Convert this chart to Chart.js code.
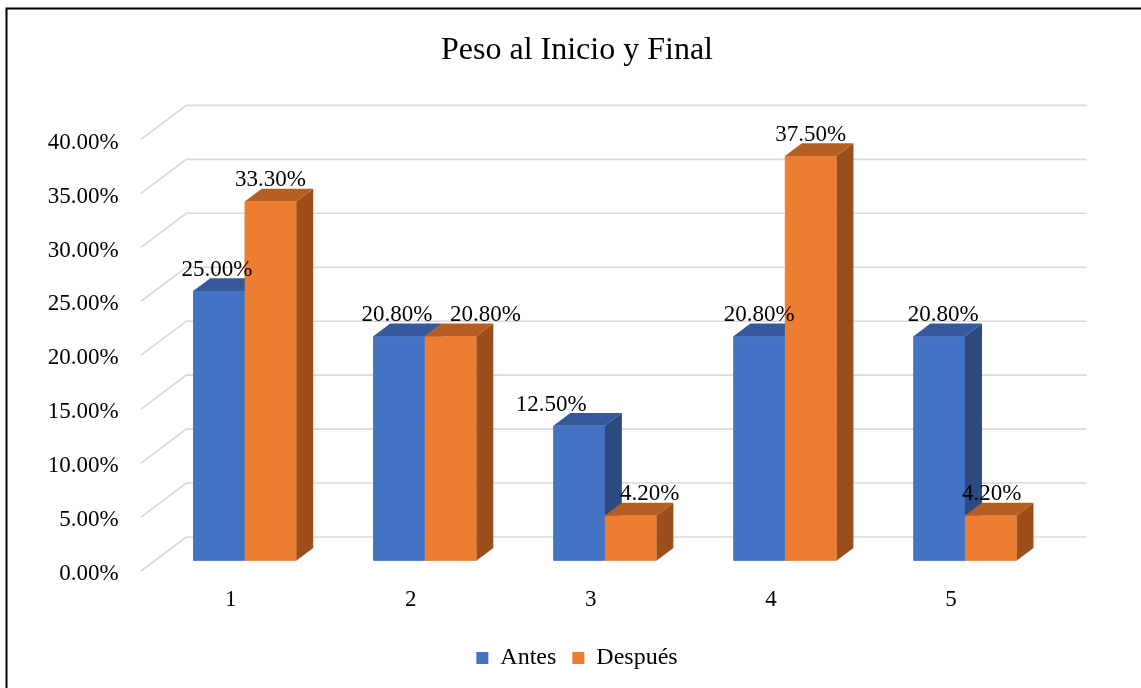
<!DOCTYPE html>
<html>
<head>
<meta charset="utf-8">
<script src="https://cdn.jsdelivr.net/npm/chart.js@4.4.1/dist/chart.umd.min.js"></script>
<style>
  html, body { margin: 0; padding: 0; background: #fff; overflow: hidden; }
  #wrap { width: 1141px; height: 688px; }
</style>
</head>
<body>
<div id="wrap"><canvas id="chart" width="1141" height="688"></canvas></div>
<script>
/* ============================================================
   DATA
============================================================ */
const categorias = ['1', '2', '3', '4', '5'];
const antes = [25.0, 20.8, 12.5, 20.8, 20.8];
const despues = [33.3, 20.8, 4.2, 37.5, 4.2];
const yTicks = [0, 5, 10, 15, 20, 25, 30, 35, 40];

/* ============================================================
   STYLE
============================================================ */
const FONT = '"Liberation Serif", "Times New Roman", serif';
const colores = {
  antes: { front: '#4472C4', top: '#35599B', side: '#2C4A80' },
  despues: { front: '#ED7D31', top: '#B65F22', side: '#9A4E1C' }
};
const depth = { dx: 17, dy: 12.75 };          // bar side / top
const frontPlane = { dx: -13.7, dy: 10.3 };   // floor front edge
const wallPlane = { dx: 31.6, dy: -23.7 };    // back wall
// manual label nudges (as in the original, to avoid overlaps)
const nudgeAntes = [-2, -2, -28, 0, 4];
const nudgeDespues = [0, 35, 19, 0, 1];

/* ============================================================
   3D PLUGIN
============================================================ */
const frame3d = {
  id: 'frame3d',
  beforeDraw(chart) {
    const { ctx, width, height } = chart;
    ctx.save();
    ctx.fillStyle = '#fff';
    ctx.fillRect(0, 0, width, height);
    ctx.strokeStyle = '#000';
    ctx.lineWidth = 2;
    ctx.beginPath();
    ctx.moveTo(6.5, height + 2);
    ctx.lineTo(6.5, 8.5);
    ctx.lineTo(width + 2, 8.5);
    ctx.stroke();
    ctx.restore();
  },
  beforeDatasetsDraw(chart) {
    const { ctx, chartArea } = chart;
    const y = chart.scales.y;
    ctx.save();
    ctx.strokeStyle = '#D9D9D9';
    ctx.lineWidth = 1.6;
    yTicks.forEach(v => {
      const yp = y.getPixelForValue(v);
      ctx.beginPath();
      ctx.moveTo(chartArea.left + frontPlane.dx, yp + frontPlane.dy);
      ctx.lineTo(chartArea.left + wallPlane.dx, yp + wallPlane.dy);
      ctx.lineTo(chartArea.right + wallPlane.dx, yp + wallPlane.dy);
      ctx.stroke();
    });
    ctx.restore();
  },
  afterDatasetsDraw(chart) {
    const { ctx } = chart;
    const pal = [colores.antes, colores.despues];
    const nudges = [nudgeAntes, nudgeDespues];
    ctx.save();
    chart.data.datasets.forEach((ds, di) => {
      const meta = chart.getDatasetMeta(di);
      meta.data.forEach(bar => {
        const { x, y, base, width } = bar.getProps(['x', 'y', 'base', 'width'], true);
        const l = x - width / 2, r = x + width / 2;
        // side
        ctx.fillStyle = pal[di].side;
        ctx.beginPath();
        ctx.moveTo(r, y);
        ctx.lineTo(r + depth.dx, y - depth.dy);
        ctx.lineTo(r + depth.dx, base - depth.dy);
        ctx.lineTo(r, base);
        ctx.closePath();
        ctx.fill();
        // top
        ctx.fillStyle = pal[di].top;
        ctx.beginPath();
        ctx.moveTo(l, y);
        ctx.lineTo(l + depth.dx, y - depth.dy);
        ctx.lineTo(r + depth.dx, y - depth.dy);
        ctx.lineTo(r, y);
        ctx.closePath();
        ctx.fill();
        // front
        ctx.fillStyle = pal[di].front;
        ctx.fillRect(l, y, width, base - y);
      });
    });
    // data labels
    ctx.fillStyle = '#000';
    ctx.font = '23px ' + FONT;
    ctx.textAlign = 'center';
    ctx.textBaseline = 'middle';
    chart.data.datasets.forEach((ds, di) => {
      const meta = chart.getDatasetMeta(di);
      meta.data.forEach((bar, i) => {
        const { x, y } = bar.getProps(['x', 'y'], true);
        ctx.fillText(ds.data[i].toFixed(2) + '%', x + nudges[di][i], y - 21);
      });
    });
    ctx.restore();
  }
};

/* ============================================================
   CHART
============================================================ */
new Chart(document.getElementById('chart'), {
  type: 'bar',
  data: {
    labels: categorias,
    datasets: [
      { label: 'Antes', data: antes, backgroundColor: colores.antes.front, borderWidth: 0, categoryPercentage: 0.572, barPercentage: 1 },
      { label: 'Después', data: despues, backgroundColor: colores.despues.front, borderWidth: 0, categoryPercentage: 0.572, barPercentage: 1 }
    ]
  },
  options: {
    responsive: false,
    animation: false,
    layout: { padding: { left: 40, right: 27, top: 0, bottom: 8 } },
    plugins: {
      title: {
        display: true,
        text: 'Peso al Inicio y Final',
        color: '#000',
        font: { family: FONT, size: 32, weight: 'normal' },
        padding: { top: 31, bottom: 59.7 }
      },
      legend: {
        position: 'bottom',
        labels: {
          color: '#000',
          font: { family: FONT, size: 24 },
          boxWidth: 12,
          boxHeight: 12,
          padding: 16
        }
      },
      tooltip: { enabled: false }
    },
    scales: {
      x: {
        grid: { display: false, drawTicks: false },
        border: { display: false },
        ticks: { color: '#000', font: { family: FONT, size: 23 }, padding: 25.5, labelOffset: -14 },
        afterFit(scale) { scale.height = 69.3; }
      },
      y: {
        min: 0,
        max: 40,
        grid: { display: false, drawTicks: false },
        border: { display: false },
        ticks: {
          stepSize: 5,
          color: '#000',
          font: { family: FONT, size: 23 },
          padding: 36,
          labelOffset: 13.5,
          callback: v => v.toFixed(2) + '%'
        },
        afterFit(scale) { scale.width = 114.7; }
      },
      // empty right axis: keeps the plot area where it is while title/legend stay centred
      yR: {
        position: 'right',
        display: true,
        grid: { display: false, drawTicks: false },
        border: { display: false },
        ticks: { display: false },
        afterFit(scale) { scale.width = 59; }
      }
    }
  },
  plugins: [frame3d]
});
</script>
</body>
</html>
